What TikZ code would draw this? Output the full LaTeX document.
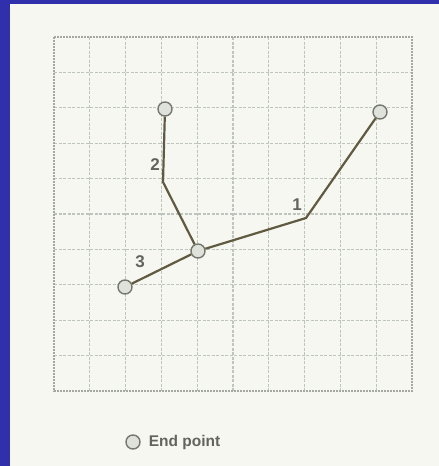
\documentclass[tikz,border=0pt]{standalone}
\usepackage{fontspec}
\setmainfont{Liberation Sans}
\usepackage{tikz}
\usetikzlibrary{
  arrows.meta,
  positioning,
  calc
}
\definecolor{fundoazul}{RGB}{48,48,172}
\definecolor{papel}{RGB}{246,247,241}
\definecolor{grade}{RGB}{190,196,190}
\definecolor{borda}{RGB}{165,168,160}
\definecolor{arco}{RGB}{96,90,64}
\definecolor{pontofill}{RGB}{222,226,218}
\definecolor{pontodraw}{RGB}{118,120,110}
\definecolor{rotulo}{RGB}{100,100,94}

\begin{document}
\begin{tikzpicture}[
      x=1pt, y=-1pt,
      ponto/.style={circle, draw=pontodraw, fill=pontofill, line width=1.4pt, minimum size=14pt, inner sep=0pt},
      linha/.style={arco, line width=2.2pt},
      num/.style={font=\fontsize{17}{19}\selectfont\bfseries, text=rotulo, inner sep=0pt},
      gradelinha/.style={grade, line width=1.1pt, dash pattern=on 3pt off 1.5pt}
  ]
      % Fundo e papel
      \fill[fundoazul] (0,0) rectangle (439,466);
      \fill[papel] (10,4) rectangle (439,466);
      \useasboundingbox (0,0) rectangle (439,466);

      % Grade 10x10
      \foreach \i in {1,...,9} {
        \draw[gradelinha] ({54+35.8*\i},37) -- ({54+35.8*\i},391);
        \draw[gradelinha] (54,{37+35.4*\i}) -- (412,{37+35.4*\i});
      }
      \draw[borda, line width=1.8pt, dash pattern=on 2pt off 1pt] (54,37) rectangle (412,391);

      % Pontos e vertices
      \node[ponto] (fim2) at (165,109) {};
      \node[ponto] (fim1) at (380,112) {};
      \node[ponto] (fim3) at (125,287) {};
      \node[ponto] (no) at (198,251) {};
      \coordinate (v2) at (163,182);
      \coordinate (v1) at (306,218);

      % Arcos
      \draw[linha] (fim2) -- (v2) -- (no);
      \draw[linha] (no) -- (v1) -- (fim1);
      \draw[linha] (no) -- (fim3);

      % Rotulos
      \node[num] (r1) at (297,205) {1};
      \node[num] (r2) at (155,165) {2};
      \node[num] (r3) at (140,262) {3};

      % Legenda
      \node[ponto] (legponto) at (133,442) {};
      \node[right=8pt of legponto, font=\fontsize{15.5}{17}\selectfont\bfseries, text=rotulo, inner sep=0pt] (legtexto) {End point};
  \end{tikzpicture}
\end{document}
